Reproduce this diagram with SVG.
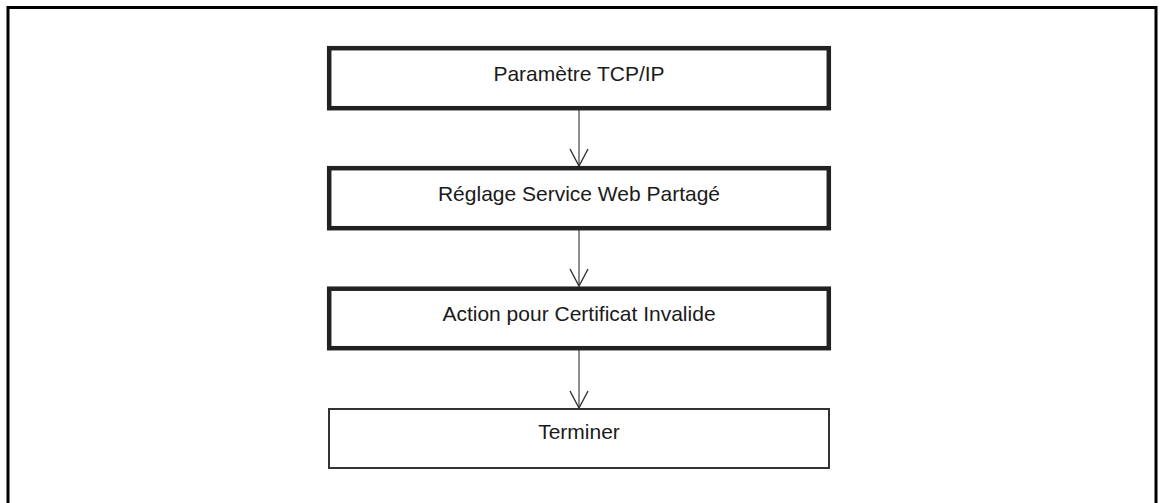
<svg xmlns="http://www.w3.org/2000/svg" width="1161" height="503" viewBox="0 0 1161 503">
<style>
.frame{fill:none;stroke:#000;stroke-width:3}
.box{fill:#fff;stroke:#222;stroke-width:4.5}
.box-end{fill:#fff;stroke:#333;stroke-width:2}
.lbl{font-family:"Liberation Sans",Arial,Helvetica,sans-serif;font-size:21px;fill:#1a1a1a;text-anchor:middle}
.conn{fill:none;stroke:#444;stroke-width:1.2}
</style>
<defs>
<marker id="arr" markerUnits="userSpaceOnUse" markerWidth="22" markerHeight="22" refX="10" refY="18" orient="auto-start-reverse" viewBox="0 0 20 20" overflow="visible">
<path d="M1,1 L10,18 L19,1" fill="none" stroke="#333" stroke-width="1.4"/>
</marker>
</defs>
<rect width="1161" height="503" fill="#fff"/>
<rect class="frame" x="8" y="7.5" width="1148" height="510"/>
<g id="connectors">
<line class="conn" x1="579" y1="110" x2="579" y2="166"/>
<path d="M570,149 L579,166 L588,149" fill="none" stroke="#333" stroke-width="1.4"/>
<line class="conn" x1="579" y1="230" x2="579" y2="286"/>
<path d="M570,269 L579,286 L588,269" fill="none" stroke="#333" stroke-width="1.4"/>
<line class="conn" x1="579" y1="350" x2="579" y2="408"/>
<path d="M570,391 L579,408 L588,391" fill="none" stroke="#333" stroke-width="1.4"/>
</g>
<g id="node-tcpip">
<rect class="box" x="329.2" y="48.2" width="499.6" height="60"/>
<text class="lbl" x="579" y="81">Paramètre TCP/IP</text>
</g>
<g id="node-webservice">
<rect class="box" x="329.2" y="168.2" width="499.6" height="60"/>
<text class="lbl" x="579" y="201">Réglage Service Web Partagé</text>
</g>
<g id="node-certificat">
<rect class="box" x="329.2" y="288.7" width="499.6" height="59.5"/>
<text class="lbl" x="579" y="321">Action pour Certificat Invalide</text>
</g>
<g id="node-terminer">
<rect class="box-end" x="329" y="409" width="500" height="59"/>
<text class="lbl" x="579" y="439">Terminer</text>
</g>
</svg>
